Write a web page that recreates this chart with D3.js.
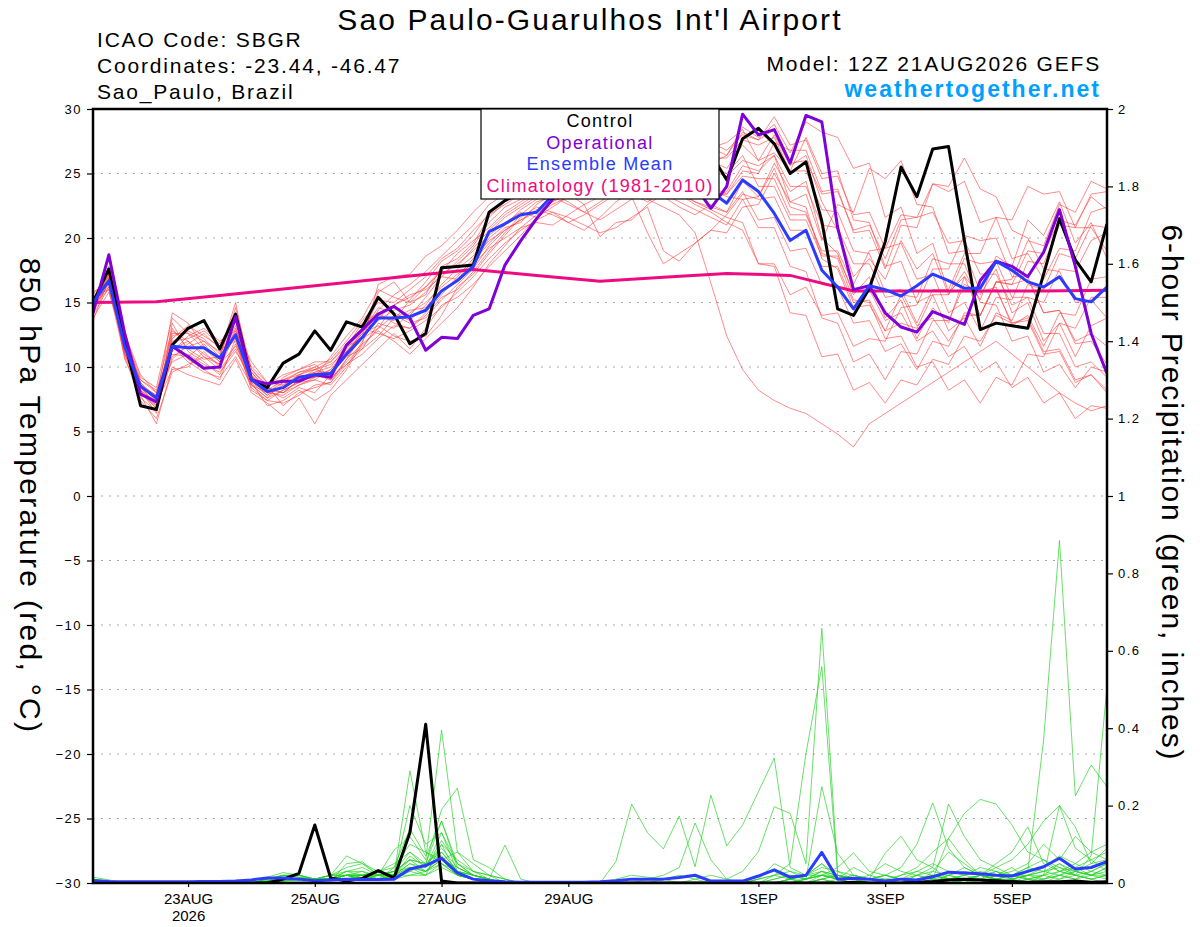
<!DOCTYPE html>
<html>
<head>
<meta charset="utf-8">
<script src="https://cdn.jsdelivr.net/npm/d3@7"></script>
<style>
body { margin: 0; background: #fff; }
text { font-family: "Liberation Sans", Arial, Helvetica, sans-serif; }
</style>
</head>
<body>
<div id="container"></div>
<script>
//6-hourly steps from 12Z 21AUG2026 to 12Z 6SEP2026 (65 steps)
var runStart = Date.UTC(2026, 7, 21, 12);
var nSteps = 65;

//850 hPa temperature, deg C
var controlTemp = [15.0,17.6,12.0,7.0,6.7,11.7,13.0,13.6,11.4,14.1,
    9.0,8.4,10.3,11.0,12.8,11.3,13.5,13.1,15.4,14.1,
    11.8,12.6,17.7,17.8,17.9,22.0,22.9,23.5,24.0,24.5,
    25.0,25.5,26.0,26.5,26.0,25.5,25.0,24.5,25.0,26.5,
    24.5,27.7,28.5,27.3,25.0,25.9,21.3,14.5,14.0,16.1,
    19.7,25.5,23.2,26.9,27.1,19.8,12.9,13.4,13.2,13.0,
    17.2,21.5,18.3,16.6,21.1];

var operTemp = [14.2,18.7,12.6,7.9,7.3,11.6,10.8,9.9,10.0,13.9,
    9.0,8.7,8.9,8.9,9.4,9.2,11.7,12.9,14.1,14.7,
    13.8,11.3,12.3,12.2,14.0,14.5,17.9,19.8,21.5,23.0,
    24.0,24.8,25.2,25.6,25.8,25.4,25.0,24.6,24.0,22.3,
    24.0,29.6,28.0,28.4,25.8,29.5,29.0,20.8,16.0,16.3,
    14.2,13.1,12.7,14.3,13.8,13.3,16.7,18.2,17.8,17.0,
    18.9,22.2,17.8,12.6,9.5];

var meanTemp = [15.0,16.7,11.6,8.5,7.6,11.6,11.5,11.5,10.7,12.5,
    9.0,8.1,8.4,9.2,9.4,9.5,11.0,12.3,13.8,13.8,
    13.9,14.4,15.9,16.7,17.8,20.5,21.1,21.8,22.0,23.3,
    23.8,24.2,24.3,24.5,24.5,24.4,24.3,24.0,23.8,23.6,
    22.7,24.5,23.6,21.9,19.8,20.6,17.5,16.2,14.5,16.3,
    16.0,15.5,16.3,17.2,16.7,16.1,16.1,18.2,17.5,16.6,
    16.2,17.0,15.3,15.05,16.2];

//Climatology (1981-2010), daily at 12Z, 21AUG .. 6SEP
var climTemp = [15.0,15.05,15.55,16.05,16.55,17.05,17.55,17.1,16.65,
    16.95,17.25,17.1,15.9,15.9,15.9,15.9,15.95];

//Ensemble members
var memberTemp = [
    [14.8,16.9,12.0,8.8,7.2,12.8,12.0,11.0,10.2,13.0,9.4,8.0,7.8,8.6,9.0,9.8,11.4,12.8,14.6,14.2,13.6,14.8,16.4,17.6,18.6,
     20.4,21.6,22.4,23.2,24.0,24.6,25.2,25.8,26.2,25.6,25.0,24.4,24.8,25.4,26.0,
     25.4,27.2,26.0,28.0,25.6,26.4,22.8,20.6,17.0,18.4,16.8,19.8,17.6,18.8,15.6,17.4,15.2,18.6,17.8,21.4,20.2,22.8,19.6,21.2,18.4],
    [15.2,17.2,11.0,8.0,6.8,10.6,11.8,12.6,11.4,12.0,8.6,7.6,8.8,9.6,10.0,9.0,10.4,11.6,13.0,14.8,15.6,16.0,17.0,16.8,18.2,
     19.6,20.8,21.2,22.6,23.4,22.8,22.0,21.4,22.2,23.0,23.8,24.2,23.6,22.8,22.4,
     22.0,24.4,23.2,25.8,23.6,24.4,20.0,18.8,15.6,17.0,13.8,15.2,12.2,14.6,13.4,17.0,15.6,17.6,14.2,15.0,12.0,13.4,10.8,13.2,13.8],
    [14.6,16.4,12.4,9.2,8.4,13.8,12.6,12.0,10.8,14.6,9.8,8.6,7.0,8.0,8.4,8.8,10.6,12.4,15.8,16.6,15.0,15.6,17.8,18.4,19.6,
     21.6,22.8,23.8,24.6,25.2,26.0,26.6,27.0,26.4,25.8,26.2,26.8,27.2,26.6,25.8,
     26.4,28.6,27.8,28.8,26.6,29.0,28.2,27.8,25.4,25.8,21.6,22.4,18.8,19.6,15.8,17.0,14.0,16.6,16.8,19.8,19.4,22.6,22.0,24.4,23.8],
    [15.4,16.0,10.8,7.4,6.0,9.6,10.2,10.8,9.8,11.4,8.8,7.8,9.2,9.8,10.4,10.4,11.8,13.0,12.6,12.2,12.8,13.6,14.6,15.8,17.0,
     18.4,19.6,20.6,21.4,22.0,21.6,21.0,20.4,20.8,21.6,22.4,19.0,18.2,19.6,20.6,
     20.4,22.4,22.6,25.0,22.8,22.4,18.4,17.6,14.6,14.8,12.8,15.6,15.4,18.4,18.0,18.0,15.0,14.8,12.0,12.4,9.6,10.2,8.4,10.0,9.6],
    [14.4,17.6,12.8,8.6,7.8,12.2,13.2,12.4,11.6,13.6,9.2,8.4,8.0,9.0,9.6,9.6,10.8,11.4,13.4,13.0,14.2,15.0,16.2,17.2,18.0,
     20.0,21.0,22.2,23.0,23.6,24.4,24.0,23.4,24.2,25.0,25.6,25.0,24.2,23.6,23.0,
     23.6,25.6,25.2,26.4,22.8,23.4,19.8,22.6,22.0,25.4,24.6,26.0,22.6,22.4,18.8,19.0,15.8,16.2,13.2,14.0,11.6,14.2,14.0,16.8,17.0],
    [15.0,16.2,11.4,7.8,5.6,10.0,9.4,9.0,8.6,10.6,8.0,7.2,6.2,7.6,5.6,7.8,9.0,10.2,11.4,12.6,11.4,13.0,14.8,15.4,16.4,
     17.8,19.0,20.2,21.6,22.8,23.4,22.6,20.1,21.2,21.4,22.6,23.4,24.0,24.6,23.8,
     23.2,23.0,20.8,20.8,17.8,17.4,13.8,13.4,10.4,11.0,9.0,11.2,11.0,13.6,13.6,16.4,15.8,16.0,13.4,13.6,11.0,11.2,8.8,9.4,8.2],
    [13.8,15.8,11.8,9.0,8.2,11.2,12.4,13.0,12.0,12.8,10.4,8.8,9.0,9.4,10.0,10.6,12.0,13.6,15.0,14.6,14.0,15.4,17.0,18.2,19.4,
     21.2,22.4,23.0,23.8,24.6,25.4,26.0,26.4,25.6,24.8,24.2,24.8,25.6,26.4,27.0,
     27.4,28.4,26.0,26.6,25.2,27.8,25.0,25.2,21.4,21.2,17.8,18.2,15.0,15.6,12.8,13.8,11.6,14.2,13.6,16.4,16.0,18.8,18.4,21.0,20.8],
    [15.6,17.0,10.6,8.2,6.4,13.4,11.2,10.4,9.4,11.8,8.4,7.4,8.2,8.8,9.0,8.6,10.0,12.0,14.0,13.6,15.2,16.6,18.2,19.0,20.2,
     22.0,23.0,23.6,24.2,24.8,25.2,25.8,26.4,27.0,27.6,27.0,26.2,25.4,24.6,24.0,
     23.4,25.2,25.0,27.4,26.8,26.8,23.6,23.8,20.4,20.6,17.6,21.0,20.8,24.2,23.6,24.4,21.2,21.6,18.4,18.8,16.8,19.2,19.0,22.0,22.4],
    [14.2,16.6,12.2,8.4,7.0,11.0,10.8,11.8,10.4,12.4,9.6,8.2,7.6,8.4,8.0,9.4,11.2,12.6,13.2,12.4,12.0,12.4,14.0,16.2,17.2,
     18.8,20.2,21.6,22.4,22.0,21.2,21.8,22.6,23.4,24.2,24.8,24.2,23.4,22.6,22.0,
     21.2,20.6,18.0,18.0,15.6,16.2,14.0,14.2,11.6,12.2,12.0,14.6,14.8,17.6,17.6,20.2,19.8,20.0,17.0,17.0,14.2,14.4,12.0,12.6,11.6],
    [15.2,17.4,11.2,7.6,6.6,12.4,12.8,12.2,11.0,15.0,9.0,7.8,8.6,9.2,9.6,10.0,11.6,12.2,14.4,15.6,16.4,17.4,18.6,19.8,21.0,
     22.6,23.4,24.0,24.8,25.4,26.0,25.4,24.8,25.2,25.8,26.4,27.0,27.6,28.0,27.4,
     26.8,28.0,27.6,29.4,27.2,27.6,24.6,24.8,21.8,22.0,19.2,19.6,16.8,17.2,14.2,15.0,12.8,15.4,15.2,18.2,18.0,21.0,20.8,23.4,23.6],
    [14.8,16.0,12.6,9.4,8.0,10.4,11.0,10.2,9.6,11.2,9.2,8.6,9.4,9.8,10.2,9.2,10.2,11.0,12.2,13.2,13.0,14.0,15.4,16.0,17.4,
     19.0,20.4,21.8,22.8,23.2,22.6,22.0,22.8,23.6,24.4,23.8,23.2,22.4,21.8,22.6,
     22.0,23.6,21.4,21.6,19.0,19.2,16.4,16.2,13.4,13.6,11.2,11.8,9.8,12.0,11.6,14.2,14.0,16.6,16.4,16.8,14.2,14.4,11.8,12.0,10.2],
    [15.0,17.8,11.6,8.0,7.4,14.2,13.4,11.6,10.6,13.2,8.8,7.0,7.4,8.2,7.4,8.2,9.8,11.8,16.4,17.0,17.2,18.6,19.4,20.6,22.0,
     23.2,24.0,24.8,25.4,26.0,26.6,27.2,27.6,27.0,26.4,25.8,25.2,25.8,26.4,27.0,
     26.4,28.2,27.6,28.4,25.8,26.0,23.4,23.6,20.6,21.0,18.4,21.4,21.6,24.2,24.0,26.2,23.8,23.2,20.6,20.0,17.6,17.4,15.0,15.2,13.8],
    [13.6,16.8,12.0,8.8,7.6,11.8,10.6,9.8,9.0,12.2,10.0,8.8,8.6,9.4,9.2,9.8,11.0,12.8,13.6,14.4,14.8,15.8,17.2,18.0,19.0,
     20.2,21.2,22.0,21.6,22.4,23.2,24.0,24.6,24.0,23.4,22.8,23.6,24.4,25.0,25.6,
     25.0,26.4,24.0,24.0,21.4,21.4,18.6,18.6,15.8,16.0,13.6,14.2,12.0,12.8,10.8,11.6,9.6,10.4,8.4,9.2,7.2,8.0,6.0,7.0,6.8],
    [15.4,16.4,11.0,8.4,7.2,9.8,10.0,11.2,10.0,12.6,9.4,8.0,8.8,9.0,9.8,10.4,11.6,13.4,14.2,13.4,13.0,14.2,15.6,17.0,18.4,
     19.8,20.6,21.4,22.2,21.8,21.2,20.6,21.6,22.8,23.6,24.4,25.0,24.4,23.8,23.2,
     23.4,24.8,24.6,24.6,21.8,21.8,19.0,19.0,16.4,19.0,19.2,21.8,21.6,22.0,19.6,19.8,17.2,17.2,14.8,15.4,15.0,17.6,17.4,19.8,20.4],
    [14.6,17.2,12.4,8.2,6.8,12.0,12.2,12.8,11.8,13.8,8.6,7.6,8.2,8.8,9.4,9.0,10.6,11.8,12.8,12.0,11.0,12.2,13.4,14.6,16.2,
     18.0,19.4,20.8,21.8,22.6,23.2,23.8,24.4,25.0,24.6,24.0,23.4,22.8,22.2,21.6,
     21.0,23.0,23.2,25.4,22.4,22.0,18.8,18.4,15.2,15.0,12.2,12.4,10.0,10.4,8.2,9.0,7.2,9.2,8.6,11.0,10.8,13.4,13.0,15.4,15.4],
    [15.8,16.6,11.2,8.6,7.8,11.4,12.0,10.8,10.2,11.6,9.6,8.2,9.0,9.6,9.8,10.2,11.2,12.6,15.2,15.0,16.0,17.0,18.4,19.2,20.6,
     21.8,22.6,23.4,24.4,25.0,25.6,26.2,25.6,25.0,24.4,25.0,25.6,26.2,26.8,26.2,
     26.2,27.6,27.2,27.8,25.2,25.2,22.2,22.0,19.0,18.8,15.8,16.0,13.4,16.0,16.0,18.8,18.8,21.6,21.4,24.0,23.4,23.6,20.8,20.8,19.0],
    [14.0,16.2,11.8,8.0,7.0,10.8,11.6,12.0,11.2,12.2,8.2,7.4,7.2,7.8,8.6,8.8,10.2,11.4,12.4,13.8,14.4,14.6,16.0,16.6,18.0,
     19.2,20.0,20.8,21.2,21.0,21.8,22.6,23.2,23.8,23.2,20.4,18.0,18.8,19.6,20.6,
     21.8,23.4,23.0,23.2,20.6,20.6,17.8,17.8,15.0,15.2,12.8,13.4,13.0,15.6,15.6,18.4,18.0,18.2,15.4,15.4,12.6,12.6,10.0,10.4,9.2],
    [15.2,17.0,12.2,9.0,8.0,13.0,11.4,10.6,10.8,14.2,9.8,8.4,8.0,8.6,9.2,10.8,12.4,13.8,16.0,15.4,15.0,16.2,17.6,17.8,19.2,
     20.6,21.8,22.6,23.4,24.2,25.0,24.4,23.8,23.2,24.0,24.8,25.6,26.4,25.8,25.2,
     24.8,26.0,25.6,26.4,24.0,24.0,21.0,20.8,18.0,18.0,15.4,15.6,13.2,13.8,12.0,14.0,14.0,16.6,16.4,19.0,18.8,21.4,21.0,23.2,22.2],
    [14.4,16.8,11.4,8.6,7.4,11.6,10.4,9.6,9.2,10.8,8.6,8.0,8.4,9.4,9.8,9.4,10.8,12.2,13.0,14.0,13.4,13.8,15.2,16.4,17.6,
     19.4,20.6,21.4,22.0,22.8,23.6,24.2,24.8,24.2,23.6,23.0,22.4,21.8,20.4,16.5,
     12.4,9.8,8.2,7.4,6.8,6.4,5.6,4.8,3.8,5.6,6.4,7.2,8.0,8.8,9.6,10.4,11.2,12.0,11.0,10.0,9.0,8.0,7.2,6.6,7.0],
    [15.0,16.6,11.8,8.2,7.2,12.6,12.6,11.4,10.4,12.8,9.2,8.2,8.0,9.0,9.2,9.6,11.2,12.4,13.8,14.8,15.4,16.2,17.4,18.8,19.8,
     20.8,22.0,22.8,23.6,24.4,25.2,25.8,26.2,25.8,25.2,24.6,24.0,23.4,22.8,22.2,
     21.6,21.2,18.0,17.8,14.2,14.0,10.8,11.0,8.2,8.8,7.2,9.0,8.6,10.6,10.2,12.4,12.0,14.0,13.4,13.8,11.2,11.4,9.0,9.4,8.0]
];

//6-hour precipitation, inches
var controlPrecip = [0,0,0,0,0,0,0,0.003,0,0,
    0,0,0.01,0.025,0.15,0.013,0.005,0.012,0.032,0.013,
    0.13,0.41,0.005,0,0,0,0,0,0,0,
    0,0,0,0,0,0,0,0,0,0,
    0,0,0,0,0,0,0,0,0.002,0,
    0,0,0.002,0.004,0.008,0.01,0.008,0.006,0.004,0.002,
    0.003,0.003,0.005,0.002,0.003];

var meanPrecip = [0.006,0.004,0.003,0.003,0.003,0.003,0.003,0.004,0.004,0.005,
    0.008,0.013,0.013,0.01,0.006,0.008,0.01,0.009,0.009,0.01,
    0.036,0.045,0.064,0.026,0.01,0.006,0.003,0.002,0.002,0.002,
    0.002,0.002,0.003,0.006,0.01,0.01,0.01,0.014,0.02,0.005,
    0.005,0.005,0.018,0.034,0.015,0.02,0.079,0.01,0.012,0.01,
    0.005,0.01,0.008,0.016,0.028,0.026,0.024,0.02,0.018,0.03,
    0.042,0.064,0.036,0.04,0.055];

var memberPrecip = [
    [0.01,0.005,0,0,0,0,0,0,0,0, 0,0.01,0.02,0.015,0.01,0.02,0.07,0.05,0.03,0.02,
     0.29,0.08,0.05,0.02,0.01,0,0,0,0,0, 0,0,0,0,0,0,0,0,0,0,
     0,0,0,0.01,0.02,0.01,0.03,0.01,0,0, 0,0,0.02,0.04,0.01,0,0.02,0.03,0.01,0, 0.02,0.05,0.03,0.02,0.04],
    [0.015,0.008,0,0,0,0,0,0,0,0, 0.005,0.015,0.027,0.02,0.01,0.005,0.05,0.055,0.02,0.085,
     0.12,0.06,0.395,0.08,0.03,0.01,0,0,0,0, 0,0,0,0.01,0.02,0.015,0.01,0,0,0,
     0,0,0.02,0.03,0.01,0,0.01,0,0,0, 0,0,0,0.01,0.115,0.06,0.02,0.01,0,0.01, 0.02,0.2,0.145,0.05,0.09],
    [0.005,0,0,0,0,0,0,0,0,0, 0,0.005,0.01,0.01,0.005,0.01,0.02,0.02,0.03,0.02,
     0.2,0.1,0.13,0.05,0.02,0.005,0,0,0,0, 0,0,0,0.055,0.204,0.13,0.088,0.173,0.042,0.227,
     0.096,0.15,0.236,0.323,0.04,0.02,0.05,0.01,0,0, 0,0.01,0,0,0.02,0.01,0,0,0.01,0.02, 0.01,0.03,0.02,0.01,0.02],
    [0.01,0,0,0,0,0,0,0,0,0, 0,0.01,0.02,0.02,0.01,0.01,0.03,0.04,0.02,0.03,
     0.08,0.05,0.19,0.245,0.06,0.04,0.01,0,0,0, 0,0,0,0,0,0,0,0,0.01,0.02,
     0.01,0.03,0.081,0.197,0.18,0.05,0.658,0.03,0.01,0, 0,0,0.02,0.01,0,0,0.01,0.03,0.01,0, 0.01,0.02,0.04,0.02,0.03],
    [0.005,0,0,0,0,0,0,0,0,0, 0,0,0.01,0.01,0.005,0.01,0.02,0.01,0.03,0.04,
     0.14,0.07,0.16,0.04,0.02,0.01,0.098,0.01,0,0, 0,0,0,0,0,0,0,0,0,0,
     0,0,0.01,0.02,0.05,0.335,0.559,0.02,0.01,0.01, 0.02,0.01,0,0,0.01,0,0,0.02,0.04,0.01, 0,0.01,0.02,0.01,0],
    [0,0,0,0,0,0,0,0,0,0, 0,0.005,0.015,0.01,0.01,0.02,0.03,0.03,0.01,0.02,
     0.05,0.04,0.1,0.06,0.03,0.02,0.01,0,0,0, 0,0,0,0,0,0.01,0.02,0.04,0.155,0.06,
     0.01,0,0.01,0.05,0.03,0.01,0.249,0.077,0.02,0.01, 0,0,0,0.03,0.08,0.05,0.02,0.01,0,0.02, 0.04,0.07,0.05,0.03,0.05],
    [0,0,0,0,0,0,0,0,0,0, 0,0,0.005,0.01,0.01,0.01,0.01,0.02,0.03,0.05,
     0.08,0.04,0.13,0.03,0.01,0,0,0,0,0, 0,0,0,0,0,0,0,0,0,0,
     0,0,0,0.01,0.02,0.01,0.02,0.04,0.078,0.03, 0.02,0.04,0.1,0.207,0.09,0.04,0.02,0.01,0.02,0.04, 0.06,0.03,0.04,0.06,0.08],
    [0.01,0,0,0,0,0,0,0,0,0, 0,0.01,0.02,0.02,0.01,0.01,0.02,0.01,0.02,0.03,
     0.06,0.03,0.08,0.03,0.02,0.01,0,0,0,0, 0,0,0,0,0,0,0,0,0,0,
     0,0,0,0,0.01,0.02,0.03,0.02,0.01,0.01, 0.077,0.121,0.06,0.04,0.204,0.12,0.06,0.04,0.02,0.01, 0,0.02,0.03,0.02,0.01],
    [0,0,0,0,0,0,0,0,0,0, 0,0,0.01,0.01,0.005,0.01,0.02,0.02,0.01,0.02,
     0.04,0.03,0.06,0.02,0.01,0,0,0,0,0, 0,0,0,0,0,0,0,0,0,0,
     0,0,0,0,0,0.01,0.02,0.01,0.02,0.01, 0,0.02,0.04,0.08,0.115,0.18,0.216,0.204,0.15,0.08, 0.06,0.04,0.02,0.03,0.02],
    [0.005,0,0,0,0,0,0,0,0,0, 0,0.005,0.01,0.01,0.005,0.01,0.02,0.02,0.02,0.02,
     0.05,0.03,0.07,0.03,0.02,0.01,0,0,0,0, 0,0,0,0,0,0,0,0,0,0,
     0,0,0,0,0,0.01,0.02,0.01,0,0, 0,0,0.01,0.02,0.01,0.01,0.02,0.01,0.02,0.03, 0.37,0.885,0.225,0.305,0.249],
    [0,0,0,0,0,0,0,0,0,0, 0,0,0.01,0.01,0.01,0.02,0.02,0.01,0.02,0.03,
     0.06,0.05,0.09,0.04,0.02,0.01,0,0,0,0, 0,0,0,0,0,0,0,0,0,0,
     0,0,0,0,0.01,0.01,0.02,0.02,0.01,0, 0,0.01,0.02,0.03,0.02,0.01,0.02,0.05,0.08,0.145, 0.05,0.03,0.02,0.07,0.507],
    [0.01,0,0,0,0,0,0,0,0,0, 0,0,0.01,0.02,0.01,0.01,0.02,0.02,0.03,0.02,
     0.07,0.04,0.11,0.05,0.03,0.02,0.01,0,0,0, 0,0,0,0,0,0,0,0,0,0,
     0,0,0,0,0,0,0.01,0.02,0.01,0, 0,0.01,0,0,0.02,0.03,0.02,0.04,0.06,0.1, 0.16,0.2,0.09,0.06,0.03],
    [0,0,0,0,0,0,0,0,0,0, 0,0.005,0.02,0.015,0.01,0.01,0.03,0.02,0.01,0.04,
     0.1,0.08,0.06,0.08,0.05,0.02,0,0,0,0, 0,0,0,0,0,0,0.01,0.02,0.01,0,
     0,0,0,0.02,0.03,0.02,0.05,0.02,0.01,0.02, 0.05,0.03,0.02,0.01,0.01,0.02,0.04,0.03,0.02,0.02, 0.02,0.03,0.05,0.08,0.06],
    [0,0,0,0,0,0,0,0,0,0, 0,0,0.005,0.01,0.01,0.02,0.04,0.05,0.02,0.01,
     0.03,0.02,0.05,0.03,0.01,0,0,0,0,0, 0,0,0,0,0,0,0,0,0,0,
     0,0,0,0,0.01,0.02,0.04,0.03,0.02,0.01, 0.01,0.02,0.03,0.05,0.03,0.02,0.01,0.02,0.03,0.05, 0.1,0.06,0.12,0.08,0.1],
    [0.005,0,0,0,0,0,0,0,0,0, 0,0,0.01,0.01,0.005,0.01,0.02,0.01,0.01,0.02,
     0.04,0.02,0.1,0.02,0.01,0,0,0,0,0, 0,0,0,0,0,0,0,0,0,0,
     0,0,0,0,0,0,0.02,0.01,0.04,0.02, 0.01,0,0.01,0.02,0.01,0,0,0.01,0.01,0.02, 0.03,0.02,0.01,0.02,0.04],
    [0,0,0,0,0,0,0,0,0,0, 0,0,0.005,0.01,0.01,0.01,0.01,0.02,0.03,0.02,
     0.06,0.05,0.16,0.05,0.02,0.01,0,0,0,0, 0,0,0,0,0,0,0,0,0,0,
     0,0,0,0,0,0.01,0.03,0.02,0.01,0, 0,0,0,0,0,0.01,0.02,0.01,0,0.01, 0.02,0.01,0.03,0.02,0.02],
    [0.01,0,0,0,0,0,0,0,0,0, 0,0.01,0.015,0.01,0.01,0.01,0.02,0.02,0.02,0.01,
     0.02,0.03,0.05,0.02,0.01,0,0,0,0,0, 0,0,0,0,0,0,0,0,0,0,
     0,0,0,0,0,0,0,0.01,0.02,0.01, 0.02,0.01,0,0.01,0.02,0.04,0.02,0.01,0.02,0.01, 0.01,0.02,0.01,0.03,0.05],
    [0,0,0,0,0,0,0,0,0,0, 0,0,0.01,0.01,0.005,0.01,0.01,0.01,0.02,0.02,
     0.03,0.05,0.08,0.03,0.02,0.01,0,0,0,0, 0,0,0,0,0,0,0,0,0,0,
     0,0,0.01,0.02,0.01,0,0.01,0.02,0.01,0, 0,0,0,0,0,0,0,0.01,0.02,0.04, 0.03,0.05,0.02,0.01,0.02],
    [0,0,0,0,0,0,0,0,0,0, 0,0,0.005,0.005,0,0.01,0.01,0.01,0.01,0.02,
     0.02,0.02,0.04,0.02,0.01,0,0,0,0,0, 0,0,0,0,0,0,0,0,0,0,
     0,0,0,0,0,0,0.01,0,0,0, 0,0,0,0,0,0,0,0,0,0, 0,0,0,0,0],
    [0.01,0.005,0,0,0,0,0,0,0,0, 0,0.005,0.01,0.01,0.01,0.02,0.02,0.03,0.02,0.03,
     0.04,0.03,0.06,0.04,0.02,0.01,0,0,0,0, 0,0,0,0,0,0,0,0,0,0,
     0,0,0,0,0.01,0.02,0.02,0.01,0,0.01, 0.02,0.01,0.03,0.02,0.01,0.02,0.03,0.02,0.01,0.02, 0.03,0.04,0.03,0.05,0.06]
];

//Axis ticks
var tempTicks = [-30,-25,-20,-15,-10,-5,0,5,10,15,20,25,30];
var precipTicks = [0,0.2,0.4,0.6,0.8,1,1.2,1.4,1.6,1.8,2];
var dateTicks = [Date.UTC(2026,7,23), Date.UTC(2026,7,25), Date.UTC(2026,7,27), Date.UTC(2026,7,29),
    Date.UTC(2026,8,1), Date.UTC(2026,8,3), Date.UTC(2026,8,5)];
var dateLabels = ["23AUG","25AUG","27AUG","29AUG","1SEP","3SEP","5SEP"];

var legendItems = [
    {label: "Control", color: "#000000"},
    {label: "Operational", color: "#8000d8"},
    {label: "Ensemble Mean", color: "#2a3cff"},
    {label: "Climatology (1981-2010)", color: "#ee0a80"}
];

///////////////////////////////////////////////////////////////////////////
//////////////////////////// Scales and svg ///////////////////////////////
///////////////////////////////////////////////////////////////////////////

var width = 1200, height = 927;
var plot = {left: 93, right: 1107, top: 109, bottom: 883};

var steps = d3.range(nSteps).map(function (i) { return new Date(runStart + i * 6 * 3600 * 1000); });
var climSteps = d3.range(climTemp.length).map(function (i) { return new Date(runStart + i * 24 * 3600 * 1000); });

var x = d3.scaleUtc()
    .domain([steps[0], steps[nSteps - 1]])
    .range([plot.left, plot.right]);
var yT = d3.scaleLinear().domain([-30, 30]).range([plot.bottom, plot.top]);
var yP = d3.scaleLinear().domain([0, 2]).range([plot.bottom, plot.top]);

var svg = d3.select("#container").append("svg")
    .attr("width", width)
    .attr("height", height)
    .style("display", "block");

svg.append("defs").append("clipPath").attr("id", "plotclip")
    .append("rect")
    .attr("x", plot.left).attr("y", plot.top)
    .attr("width", plot.right - plot.left).attr("height", plot.bottom - plot.top);

//dotted grid at the temperature ticks
svg.append("g")
    .selectAll("line")
    .data(tempTicks.slice(1, -1))
    .enter().append("line")
    .attr("x1", plot.left).attr("x2", plot.right)
    .attr("y1", function (d) { return yT(d); })
    .attr("y2", function (d) { return yT(d); })
    .attr("stroke", "#aaaaaa")
    .attr("stroke-width", 1.2)
    .attr("stroke-dasharray", "2,6");

var lineT = d3.line()
    .x(function (d, i) { return x(steps[i]); })
    .y(function (d) { return yT(d); });
var lineP = d3.line()
    .x(function (d, i) { return x(steps[i]); })
    .y(function (d) { return yP(d); });
var lineClim = d3.line()
    .x(function (d, i) { return x(climSteps[i]); })
    .y(function (d) { return yT(d); });

var lines = svg.append("g").attr("clip-path", "url(#plotclip)");

//Members
lines.append("g")
    .selectAll("path")
    .data(memberTemp)
    .enter().append("path")
    .attr("d", lineT)
    .attr("fill", "none")
    .attr("stroke", "#ff3a3a")
    .attr("stroke-opacity", 0.75)
    .attr("stroke-width", 0.8);

lines.append("g")
    .selectAll("path")
    .data(memberPrecip)
    .enter().append("path")
    .attr("d", lineP)
    .attr("fill", "none")
    .attr("stroke", "#22d022")
    .attr("stroke-opacity", 0.85)
    .attr("stroke-width", 0.8);

//Climatology, control, operational, mean
lines.append("path").attr("d", lineClim(climTemp))
    .attr("fill", "none").attr("stroke", legendItems[3].color).attr("stroke-width", 3);

lines.append("path").attr("d", lineP(controlPrecip))
    .attr("fill", "none").attr("stroke", legendItems[0].color).attr("stroke-width", 3)
    .attr("stroke-linejoin", "round");
lines.append("path").attr("d", lineP(meanPrecip))
    .attr("fill", "none").attr("stroke", legendItems[2].color).attr("stroke-width", 3)
    .attr("stroke-linejoin", "round");

lines.append("path").attr("d", lineT(controlTemp))
    .attr("fill", "none").attr("stroke", legendItems[0].color).attr("stroke-width", 3)
    .attr("stroke-linejoin", "round");
lines.append("path").attr("d", lineT(operTemp))
    .attr("fill", "none").attr("stroke", legendItems[1].color).attr("stroke-width", 3)
    .attr("stroke-linejoin", "round");
lines.append("path").attr("d", lineT(meanTemp))
    .attr("fill", "none").attr("stroke", legendItems[2].color).attr("stroke-width", 3)
    .attr("stroke-linejoin", "round");

///////////////////////////////////////////////////////////////////////////
/////////////////////////////// Axes //////////////////////////////////////
///////////////////////////////////////////////////////////////////////////

var axL = svg.append("g")
    .attr("transform", "translate(" + plot.left + ",0)")
    .call(d3.axisLeft(yT).tickValues(tempTicks).tickSize(6).tickSizeOuter(0).tickPadding(5));
var axR = svg.append("g")
    .attr("transform", "translate(" + plot.right + ",0)")
    .call(d3.axisRight(yP).tickValues(precipTicks).tickSize(6).tickSizeOuter(0).tickPadding(5)
        .tickFormat(function (d) { return String(+d.toFixed(1)); }));
var axB = svg.append("g")
    .attr("transform", "translate(0," + plot.bottom + ")")
    .call(d3.axisBottom(x).tickValues(dateTicks.map(function (d) { return new Date(d); }))
        .tickSize(4).tickSizeOuter(0).tickPadding(6)
        .tickFormat(function (d, i) { return dateLabels[i]; }));

[axL, axR, axB].forEach(function (ax) {
    ax.select(".domain").remove();
    ax.selectAll(".tick line").attr("stroke", "#000").attr("stroke-width", 1.2);
});
axL.selectAll(".tick text").attr("font-size", 13).attr("fill", "#000")
    .attr("font-family", "Liberation Sans, Arial, sans-serif").style("letter-spacing", "1.5px");
axR.selectAll(".tick text").attr("font-size", 13).attr("fill", "#000")
    .attr("font-family", "Liberation Sans, Arial, sans-serif").style("letter-spacing", "1.5px");
axB.selectAll(".tick text").attr("font-size", 15).attr("fill", "#000")
    .attr("font-family", "Liberation Sans, Arial, sans-serif");
axB.selectAll(".tick").filter(function (d, i) { return i === 0; })
    .select("text").append("tspan")
    .attr("x", 0).attr("dy", "1.15em").text("2026");

//frame
svg.append("rect")
    .attr("x", plot.left).attr("y", plot.top)
    .attr("width", plot.right - plot.left).attr("height", plot.bottom - plot.top)
    .attr("fill", "none").attr("stroke", "#000").attr("stroke-width", 2.5);

//Legend box
var legend = svg.append("g");
legend.append("rect")
    .attr("x", 481).attr("y", plot.top)
    .attr("width", 238).attr("height", 90)
    .attr("fill", "#fff").attr("stroke", "#000").attr("stroke-width", 1.2);
legend.selectAll("text")
    .data(legendItems)
    .enter().append("text")
    .attr("x", 600)
    .attr("y", function (d, i) { return 127 + i * 21.5; })
    .attr("text-anchor", "middle")
    .attr("font-size", 18)
    .style("letter-spacing", "1.3px")
    .attr("fill", function (d) { return d.color; })
    .text(function (d) { return d.label; });

///////////////////////////////////////////////////////////////////////////
/////////////////////////////// Titles ////////////////////////////////////
///////////////////////////////////////////////////////////////////////////

svg.append("text").attr("x", 590).attr("y", 30)
    .attr("text-anchor", "middle").attr("font-size", 30)
    .style("letter-spacing", "2.1px")
    .text("Sao Paulo-Guarulhos Int'l Airport");

var info = ["ICAO Code: SBGR", "Coordinates: -23.44, -46.47", "Sao_Paulo, Brazil"];
svg.append("g").selectAll("text")
    .data(info)
    .enter().append("text")
    .attr("x", 97)
    .attr("y", function (d, i) { return 47 + i * 26; })
    .attr("font-size", 21)
    .style("letter-spacing", "1.8px")
    .text(function (d) { return d; });

svg.append("text").attr("x", 1101).attr("y", 71)
    .attr("text-anchor", "end").attr("font-size", 21)
    .style("letter-spacing", "1.8px")
    .text("Model: 12Z 21AUG2026 GEFS");
svg.append("text").attr("x", 1101).attr("y", 97)
    .attr("text-anchor", "end").attr("font-size", 23).attr("font-weight", "bold")
    .style("letter-spacing", "2px")
    .attr("fill", "#00a0ff")
    .text("weathertogether.net");

svg.append("text")
    .attr("transform", "translate(20,496) rotate(90)")
    .attr("text-anchor", "middle").attr("font-size", 30)
    .style("letter-spacing", "2.3px")
    .text("850 hPa Temperature (red, \u00B0C)");
svg.append("text")
    .attr("transform", "translate(1162,493) rotate(90)")
    .attr("text-anchor", "middle").attr("font-size", 30)
    .style("letter-spacing", "1.9px")
    .text("6-hour Precipitation (green, inches)");
</script>
</body>
</html>
